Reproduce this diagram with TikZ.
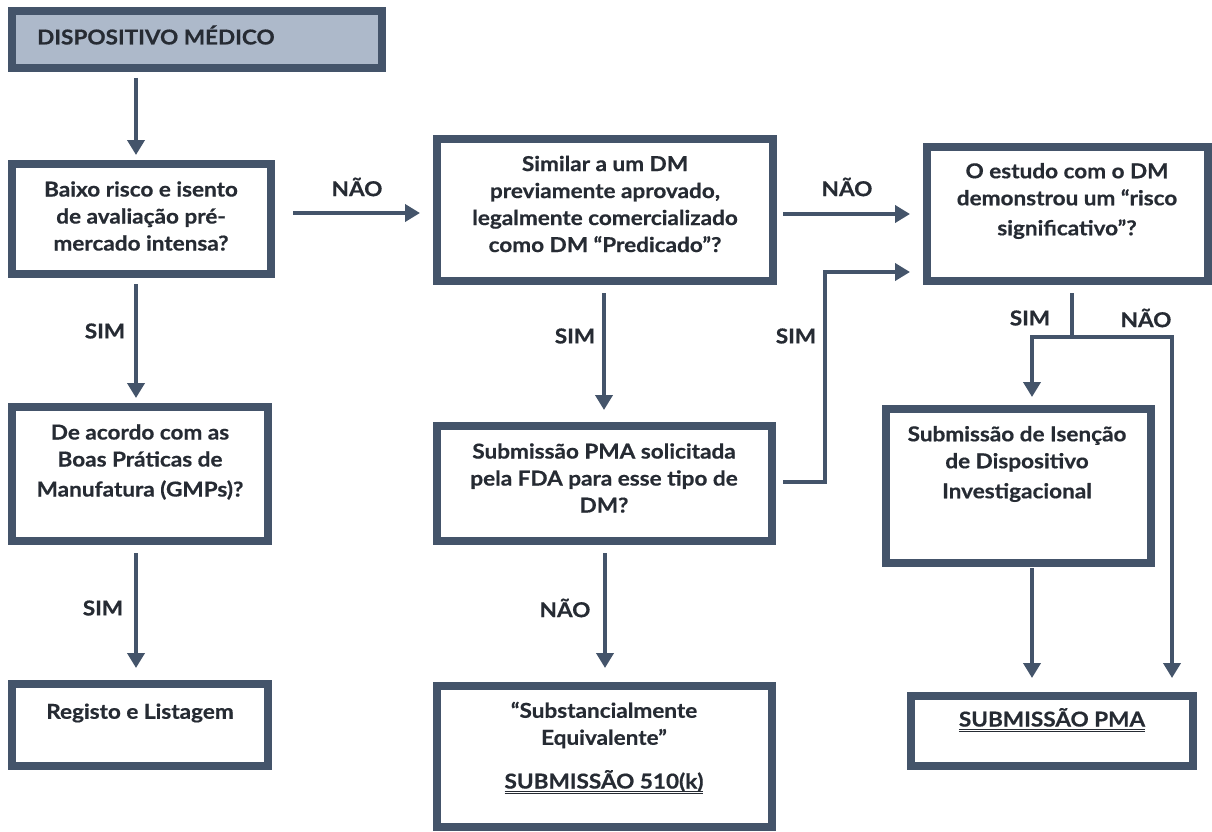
\documentclass[tikz,border=0pt]{standalone}
\usepackage{fontspec}
\setmainfont{Lato}[BoldFeatures={FakeStretch=1.1,FakeBold=0.6}]
\usetikzlibrary{arrows.meta}
\definecolor{frame}{HTML}{44546A}
\definecolor{headfill}{HTML}{ADB9CA}
\definecolor{ink}{HTML}{262B33}
% double underline used for the submission headings
\newcommand\dblul[1]{\setbox0\hbox{#1}\leavevmode\rlap{\vrule width \wd0 height -2.0pt depth 3.4pt}\rlap{\vrule width \wd0 height -4.6pt depth 5.4pt}\box0}
\begin{document}
\begin{tikzpicture}[x=1pt,y=-1pt,
  box/.style={draw=frame,line width=8pt,fill=white,inner sep=0pt,outer sep=0pt},
  txt/.style={text=ink,font=\fontsize{20.5}{27}\selectfont\bfseries,align=center,inner sep=0pt},
  lbl/.style={text=ink,font=\fontsize{20.5}{24}\selectfont\bfseries,inner sep=0pt},
  arr/.style={draw=frame,line width=4.5pt,-{Triangle[width=17pt,length=15pt]}}]
\useasboundingbox (0,0) rectangle (1212,832);
\fill[white] (0,0) rectangle (1212,832);

% boxes
\node[box,fill=headfill,minimum width=370pt,minimum height=57pt] (b1) at (197,39.5) {};
\node[box,minimum width=259pt,minimum height=110pt] (b2) at (141.5,219) {};
\node[box,minimum width=336pt,minimum height=142pt] (b3) at (605,210) {};
\node[box,minimum width=281pt,minimum height=134pt] (b4) at (1067.5,214) {};
\node[box,minimum width=256pt,minimum height=134pt] (b5) at (140,474) {};
\node[box,minimum width=256pt,minimum height=82pt] (b6) at (140,725) {};
\node[box,minimum width=335pt,minimum height=115pt] (b7) at (604.5,483.5) {};
\node[box,minimum width=335pt,minimum height=141pt] (b8) at (604.5,756.5) {};
\node[box,minimum width=265pt,minimum height=154pt] (b9) at (1018.5,486) {};
\node[box,minimum width=282pt,minimum height=70pt] (b10) at (1052,731) {};

% box texts
\node[txt,anchor=west] (t1) at (37,35) {DISPOSITIVO MÉDICO};
\node[txt] (t2) at (141,216) {Baixo risco e isento\\de avaliação pré-\\mercado intensa?};
\node[txt] (t3) at (605,204) {Similar a um DM\\previamente aprovado,\\legalmente comercializado\\como DM “Predicado”?};
\node[txt] (t4) at (1067,201) {O estudo com o DM\\demonstrou um “risco\\[3pt]significativo”?};
\node[txt] (t5) at (140,462) {De acordo com as\\Boas Práticas de\\[3pt]Manufatura (GMPs)?};
\node[txt] (t6) at (140,713) {Registo e Listagem};
\node[txt] (t7) at (604,478) {Submissão PMA solicitada\\pela FDA para esse tipo de\\DM?};
\node[txt] (t8) at (604,725) {“Substancialmente\\Equivalente”};
\node[txt] (t8b) at (604,782) {\dblul{SUBMISSÃO 510(k)}};
\node[txt] (t9) at (1017,464) {Submissão de Isenção\\de Dispositivo\\[3pt]Investigacional};
\node[txt] (t10) at (1052,720) {\dblul{SUBMISSÃO PMA}};

% connectors
\draw[arr,shorten <=10pt,shorten >=9pt] ([xshift=-61pt]b1.south) -- ([xshift=-5.5pt]b2.north);
\draw[arr,shorten <=22pt,shorten >=17pt] ([yshift=6pt]b2.east) -- ([yshift=-3pt]b3.west);
\draw[arr,shorten <=10pt,shorten >=17pt] ([yshift=-4pt]b3.east) -- (b4.west);
\draw[arr,shorten <=10pt,shorten >=9pt] ([xshift=-5.5pt]b2.south) -- ([xshift=-4pt]b5.north);
\draw[arr,shorten <=12pt,shorten >=16pt] ([xshift=-4pt]b5.south) -- ([xshift=-4pt]b6.north);
\draw[arr,shorten <=12pt,shorten >=16pt] ([xshift=-1pt]b3.south) -- ([xshift=-0.5pt]b7.north);
\draw[arr,shorten <=12pt,shorten >=18pt] ([xshift=0.5pt]b7.south) -- ([xshift=0.5pt]b8.north);
\draw[arr,shorten <=11pt,shorten >=17pt] ([yshift=1.5pt]b7.east) -- ++(53pt,0pt) |- ([yshift=-58pt]b4.west);
\draw[arr,shorten <=12pt,shorten >=12pt] ([xshift=4.5pt]b4.south) -- ++(0pt,-56pt) -| ([xshift=13.5pt]b9.north);
\draw[arr,shorten <=12pt,shorten >=18pt] ([xshift=4.5pt]b4.south) -- ++(0pt,-56pt) -| ([xshift=120pt]b10.north);
\draw[arr,shorten <=5pt,shorten >=18pt] ([xshift=13.5pt]b9.south) -- ([xshift=-20pt]b10.north);

% branch labels
\node[lbl] (l1) at (357,187) {NÃO};
\node[lbl] (l2) at (847,187) {NÃO};
\node[lbl] (l3) at (105,331) {SIM};
\node[lbl] (l4) at (103,608) {SIM};
\node[lbl] (l5) at (575,336) {SIM};
\node[lbl] (l6) at (565,608) {NÃO};
\node[lbl] (l7) at (796,336) {SIM};
\node[lbl] (l8) at (1030,318) {SIM};
\node[lbl] (l9) at (1146,318) {NÃO};
\end{tikzpicture}
\end{document}
